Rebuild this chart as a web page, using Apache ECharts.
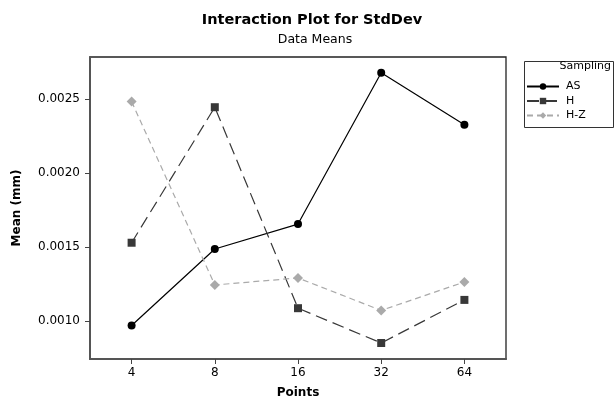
<!DOCTYPE html>
<html>
<head>
<meta charset="utf-8">
<script src="https://cdn.jsdelivr.net/npm/echarts@6/dist/echarts.min.js"></script>
<style>
  html, body { margin: 0; padding: 0; background: #fff; }
  #chart { width: 615px; height: 398px; }
</style>
</head>
<body>
<div id="chart"></div>
<script>
// Number of sample points per profile
const points = ['4', '8', '16', '32', '64'];

// Mean of StdDev (mm) for each sampling strategy
const asMeans = [0.00097, 0.001487, 0.001655, 0.002677, 0.002325];
const hMeans = [0.001529, 0.002444, 0.001087, 0.000852, 0.001143];
const hzMeans = [0.002482, 0.001244, 0.001291, 0.001072, 0.001264];

const yTicks = [0.0010, 0.0015, 0.0020, 0.0025];

const FONT = 'DejaVu Sans';

const chart = echarts.init(document.getElementById('chart'), null, { renderer: 'canvas' });

chart.setOption({
  animation: false,
  backgroundColor: '#fff',
  textStyle: { fontFamily: FONT },
  title: [
    {
      text: 'Interaction Plot for StdDev',
      left: 307, top: 8, textAlign: 'center',
      textStyle: { fontFamily: FONT, fontSize: 14.5, fontWeight: 'bold', color: '#000' }
    },
    {
      text: 'Data Means',
      left: 310, top: 28, textAlign: 'center',
      textStyle: { fontFamily: FONT, fontSize: 12.5, fontWeight: 'normal', color: '#000' }
    }
  ],
  grid: {
    left: 90, top: 57, width: 416, height: 302,
    outerBoundsMode: 'none',
    show: true, borderColor: '#222', borderWidth: 1.3, backgroundColor: '#fff'
  },
  legend: {
    left: 521, top: 76,
    orient: 'vertical',
    itemWidth: 32, itemHeight: 8, itemGap: 3.5,
    textStyle: { fontFamily: FONT, fontSize: 11, color: '#000', padding: [0, 0, 0, 2] },
    data: ['AS', 'H', 'H-Z']
  },
  graphic: [
    {
      type: 'rect', left: 522, top: 59,
      shape: { width: 89, height: 66 },
      style: { fill: 'none', stroke: '#333', lineWidth: 1 }
    },
    {
      type: 'text', right: 4, top: 61,
      style: { text: 'Sampling', font: '11px "DejaVu Sans"', fill: '#000' }
    }
  ],
  xAxis: {
    type: 'category',
    data: points,
    boundaryGap: true,
    name: 'Points',
    nameLocation: 'middle',
    nameGap: 28,
    nameTextStyle: { fontFamily: FONT, fontSize: 12, fontWeight: 'bold', color: '#000' },
    axisLine: { show: true, lineStyle: { color: '#555', width: 2 } },
    axisTick: { show: true, alignWithLabel: true, length: 5, lineStyle: { color: '#444' } },
    axisLabel: { fontFamily: FONT, fontSize: 12, color: '#000', margin: 8 },
    splitLine: { show: false }
  },
  yAxis: {
    type: 'value',
    min: 0.000744,
    max: 0.002783,
    name: 'Mean (mm)',
    nameLocation: 'middle',
    nameGap: 67,
    nameRotate: 90,
    nameTextStyle: { fontFamily: FONT, fontSize: 12, fontWeight: 'bold', color: '#000' },
    axisLine: { show: true, lineStyle: { color: '#555', width: 2 } },
    axisTick: { show: true, length: 5, customValues: yTicks, lineStyle: { color: '#444' } },
    axisLabel: {
      fontFamily: FONT, fontSize: 12, color: '#000', margin: 10,
      customValues: yTicks,
      formatter: v => v.toFixed(4)
    },
    splitLine: { show: false }
  },
  series: [
    {
      name: 'AS', type: 'line', data: asMeans,
      symbol: 'circle', symbolSize: 8,
      itemStyle: { color: '#000' },
      lineStyle: { color: '#000', width: 1.2, type: 'solid' }
    },
    {
      name: 'H', type: 'line', data: hMeans,
      symbol: 'rect', symbolSize: 8,
      itemStyle: { color: '#383838' },
      lineStyle: { color: '#383838', width: 1.2, type: [12, 6] }
    },
    {
      name: 'H-Z', type: 'line', data: hzMeans,
      symbol: 'diamond', symbolSize: 10,
      itemStyle: { color: '#aaaaaa' },
      lineStyle: { color: '#aaaaaa', width: 1.2, type: [6, 4] }
    }
  ]
});
</script>
</body>
</html>
